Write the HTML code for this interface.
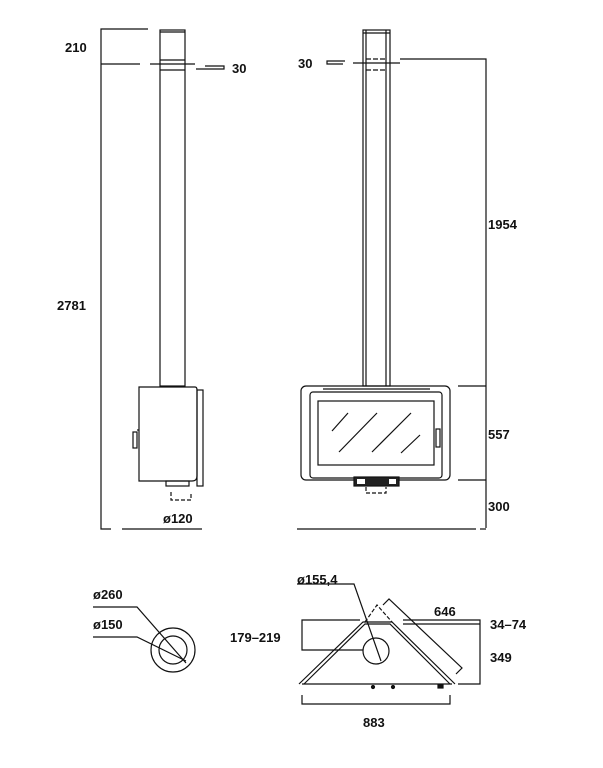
<!DOCTYPE html>
<html><head><meta charset="utf-8"><style>
body{margin:0;background:#fff}
svg{display:block}
text{font-family:"Liberation Sans",sans-serif;font-weight:bold;font-size:13px;fill:#111}
</style></head><body>
<svg width="603" height="768" viewBox="0 0 603 768" xmlns="http://www.w3.org/2000/svg" fill="none" stroke="#111" stroke-width="1.2">
<!-- left view dims -->
<polyline points="148,29 101,29 101,529 111,529"/>
<line x1="122" y1="529" x2="202" y2="529"/>
<line x1="101" y1="64" x2="140" y2="64"/>
<line x1="150" y1="64" x2="195" y2="64"/>
<polyline points="196,69 224,69 224,66 205,66"/>
<text x="65" y="52" stroke="none">210</text>
<text x="232" y="73" stroke="none">30</text>
<text x="57" y="310" stroke="none">2781</text>
<!-- left pipe -->
<rect x="160" y="30" width="25" height="356"/>
<line x1="160" y1="32" x2="185" y2="32"/>
<line x1="160" y1="60" x2="185" y2="60"/>
<line x1="160" y1="70" x2="185" y2="70"/>
<!-- left stove -->
<path d="M139,387 H195 Q197,387 197,390 V476 Q197,481 192,481 H139 Z"/>
<rect x="197" y="390" width="6" height="96"/>
<rect x="133" y="432" width="4" height="16"/>
<line x1="137" y1="430" x2="139" y2="430"/>
<rect x="166" y="481" width="23" height="5"/>
<polyline points="171,492 171,500 191,500 191,492" stroke-dasharray="4,2"/>
<text x="163" y="523" stroke="none">ø120</text>
<!-- right pipe -->
<rect x="363" y="30" width="27" height="356"/>
<line x1="363" y1="33" x2="390" y2="33"/>
<line x1="366" y1="30" x2="366" y2="386"/>
<line x1="386" y1="30" x2="386" y2="386"/>
<line x1="353" y1="63" x2="400" y2="63"/>
<line x1="366" y1="59" x2="386" y2="59" stroke-dasharray="5,2"/>
<line x1="366" y1="70" x2="386" y2="70" stroke-dasharray="5,2"/>
<polyline points="345,61 327,61 327,64 343,64"/>
<text x="298" y="68" stroke="none">30</text>
<polyline points="400,59 486,59 486,528"/>
<line x1="458" y1="386" x2="486" y2="386"/>
<line x1="458" y1="480" x2="486" y2="480"/>
<line x1="297" y1="529" x2="476" y2="529"/>
<line x1="480" y1="529" x2="486" y2="529"/>
<text x="488" y="229" stroke="none">1954</text>
<text x="488" y="439" stroke="none">557</text>
<text x="488" y="511" stroke="none">300</text>
<!-- right stove -->
<rect x="301" y="386" width="149" height="94" rx="5"/>
<rect x="310" y="392" width="132" height="86" rx="3"/>
<line x1="323" y1="389" x2="430" y2="389"/>
<rect x="318" y="401" width="116" height="64"/>
<line x1="332" y1="431" x2="348" y2="413"/>
<line x1="339" y1="452" x2="377" y2="413"/>
<line x1="372" y1="452" x2="411" y2="413"/>
<line x1="401" y1="453" x2="420" y2="435"/>
<rect x="436" y="429" width="4" height="18"/>
<rect x="354" y="477" width="45" height="9" fill="#222"/>
<rect x="357" y="479" width="8" height="5" fill="#fff" stroke="none"/>
<rect x="389" y="479" width="7" height="5" fill="#fff" stroke="none"/>
<polyline points="366,487 366,493 386,493 386,487" stroke-dasharray="4,2"/>
<!-- bottom circle view -->
<circle cx="173" cy="650" r="22"/>
<circle cx="173" cy="650" r="14"/>
<polyline points="93,607 137,607 186,663"/>
<polyline points="93,637 137,637 186,661"/>
<text x="93" y="599" stroke="none">ø260</text>
<text x="93" y="629" stroke="none">ø150</text>
<!-- triangle view -->
<polyline points="299,684 363,622 392,622 455,684"/>
<polyline points="304,684 365,624 390,624 450,684"/>
<line x1="302" y1="684" x2="452" y2="684"/>
<polyline points="365,622 377,605 392,622" stroke-dasharray="4,2"/>
<circle cx="376" cy="651" r="13"/>
<polyline points="297,584 354,584 381,661"/>
<text x="297" y="584" stroke="none">ø155,4</text>
<polyline points="360,620 302,620 302,650 363,650"/>
<polyline points="403,620 480,620 480,684 458,684"/>
<line x1="403" y1="624" x2="480" y2="624"/>
<polyline points="383,605 389,599 462,668 456,674"/>
<polyline points="302,695 302,704 450,704 450,695"/>
<circle cx="373" cy="687" r="1.5" fill="#111"/>
<circle cx="393" cy="687" r="1.5" fill="#111"/>
<rect x="438" y="685" width="5" height="3" fill="#111"/>
<text x="434" y="616" stroke="none">646</text>
<text x="490" y="629" stroke="none">34–74</text>
<text x="490" y="662" stroke="none">349</text>
<text x="230" y="642" stroke="none">179–219</text>
<text x="363" y="727" stroke="none">883</text>
</svg>
</body></html>
